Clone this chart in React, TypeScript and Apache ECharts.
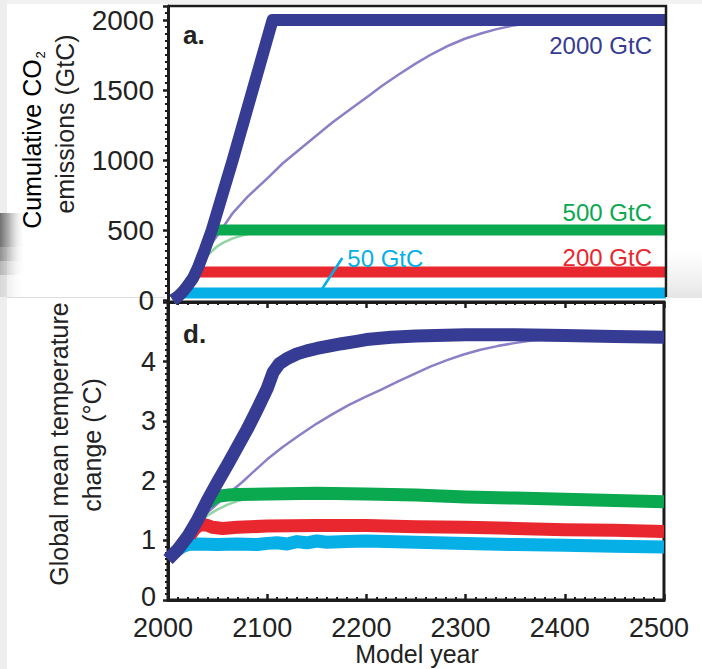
import React, { useEffect, useRef } from "react";
import * as echarts from "echarts";

// ---- Panel a: cumulative CO2 emissions (GtC) ----
const cumNavyYears = [2005, 2010, 2015, 2020, 2025, 2030, 2037, 2044, 2065, 2085, 2105, 2500];
const cumNavyValues = [0, 25, 60, 105, 155, 230, 360, 500, 1000, 1500, 2000, 2000];

const cumPurpleYears = [2005, 2010, 2015, 2020, 2025, 2030, 2040, 2050, 2065, 2080, 2100, 2115, 2132, 2150, 2165, 2182, 2200, 2215, 2232, 2249, 2265, 2282, 2298, 2315, 2330, 2345, 2360, 2380, 2400, 2500];
const cumPurpleValues = [0, 25, 60, 105, 155, 230, 365, 465, 621, 738, 870, 975, 1075, 1180, 1268, 1357, 1450, 1530, 1612, 1690, 1757, 1818, 1866, 1905, 1935, 1958, 1975, 1990, 1998, 2000];

const cumGreenYears = [2005, 2010, 2015, 2020, 2025, 2030, 2037, 2044, 2500];
const cumGreenValues = [0, 25, 60, 105, 155, 230, 360, 500, 500];

const cumThinGreenYears = [2030, 2035, 2040, 2045, 2049, 2055, 2065, 2075, 2082, 2090, 2100, 2120, 2500];
const cumThinGreenValues = [230, 280, 320, 355, 380, 408, 440, 462, 475, 485, 493, 500, 500];

const cumRedYears = [2005, 2010, 2015, 2020, 2025, 2029, 2500];
const cumRedValues = [0, 25, 60, 105, 155, 200, 200];

const cumCyanYears = [2005, 2010, 2014, 2500];
const cumCyanValues = [0, 25, 50, 50];

// Totals named in the panel a labels
const totalLabels = ["2000 GtC", "500 GtC", "200 GtC", "50 GtC"];
const totalValues = [2000, 500, 200, 50];
// leader line for the 50 GtC label: [year, GtC] endpoints
const leaderFrom = [2152, 50];
const leaderTo = [2175, 300];

// ---- Panel d: global mean temperature change (°C) ----
const tNavyYears = [2000, 2010, 2020, 2030, 2040, 2050, 2060, 2070, 2080, 2090, 2100, 2106, 2112, 2120, 2130, 2140, 2150, 2162, 2175, 2190, 2200, 2225, 2250, 2300, 2350, 2400, 2450, 2500];
const tNavyValues = [0.68, 0.85, 1.07, 1.35, 1.68, 1.98, 2.27, 2.57, 2.87, 3.2, 3.55, 3.82, 3.96, 4.05, 4.13, 4.18, 4.22, 4.26, 4.3, 4.34, 4.37, 4.41, 4.43, 4.45, 4.45, 4.44, 4.42, 4.41];

const tPurpleYears = [2030, 2040, 2050, 2062, 2075, 2088, 2100, 2115, 2132, 2150, 2165, 2182, 2198, 2215, 2232, 2249, 2265, 2282, 2298, 2315, 2332, 2349, 2365, 2382, 2400, 2420, 2500];
const tPurpleValues = [1.33, 1.47, 1.62, 1.8, 1.98, 2.18, 2.36, 2.56, 2.76, 2.96, 3.11, 3.27, 3.4, 3.53, 3.67, 3.8, 3.92, 4.03, 4.12, 4.2, 4.26, 4.31, 4.35, 4.38, 4.41, 4.42, 4.41];

const tGreenYears = [2040, 2045, 2050, 2060, 2070, 2100, 2150, 2200, 2250, 2300, 2350, 2400, 2450, 2500];
const tGreenValues = [1.62, 1.7, 1.74, 1.76, 1.77, 1.78, 1.79, 1.78, 1.76, 1.73, 1.71, 1.69, 1.67, 1.65];

const tThinGreenYears = [2035, 2040, 2045, 2050, 2055, 2060, 2065, 2070, 2075, 2085, 2100];
const tThinGreenValues = [1.36, 1.42, 1.47, 1.52, 1.56, 1.6, 1.63, 1.66, 1.68, 1.72, 1.76];

const tRedYears = [2022, 2025, 2028, 2031, 2035, 2040, 2045, 2055, 2070, 2100, 2150, 2200, 2250, 2300, 2350, 2400, 2450, 2500];
const tRedValues = [1.08, 1.15, 1.21, 1.25, 1.27, 1.25, 1.22, 1.2, 1.22, 1.24, 1.25, 1.25, 1.23, 1.22, 1.2, 1.18, 1.17, 1.15];

const tCyanYears = [2010, 2015, 2020, 2030, 2050, 2070, 2090, 2100, 2110, 2120, 2130, 2140, 2150, 2160, 2180, 2200, 2250, 2300, 2350, 2400, 2450, 2500];
const tCyanValues = [0.85, 0.9, 0.93, 0.94, 0.93, 0.94, 0.93, 0.95, 0.96, 0.94, 0.98, 0.96, 0.99, 0.97, 0.98, 0.99, 0.97, 0.95, 0.93, 0.92, 0.9, 0.89];

// ---- styling ----
const FONT = '"Liberation Sans", Arial, Helvetica, sans-serif';
const INK = "#1c1c1c";
const NAVY = "#363b93";
const PURPLE_THIN = "#8a80c6";
const GREEN = "#0aa84f";
const GREEN_THIN = "#93d4a4";
const RED = "#e8282e";
const CYAN = "#06afe6";

const zip = (xs: number[], ys: number[]) => xs.map((x, i) => [x, ys[i]]);

function line(name: string, data: number[][], color: string, width: number, grid: number) {
  return {
    name,
    type: "line",
    xAxisIndex: grid === 0 ? 0 : 1,
    yAxisIndex: grid,
    data,
    symbol: "none",
    showSymbol: false,
    smooth: false,
    clip: true,
    lineStyle: { color, width, cap: "butt", join: "round" },
    emphasis: { disabled: true },
  };
}

const plain = (v: number) => String(v);
// the zero of the temperature axis sits a little higher, clear of the year labels
const tempLabel = (v: number) => (v === 0 ? "{z|0}" : String(v));

export default function App() {
  const ref = useRef<HTMLDivElement>(null);

  useEffect(() => {
    if (!ref.current) return;
    const chart = echarts.init(ref.current, null, { renderer: "svg" });

    const tick = { show: true, inside: true, length: 6, lineStyle: { color: INK, width: 2.5 } };
    const minor = { show: true, splitNumber: 10, length: 3, lineStyle: { color: INK, width: 2 } };

    chart.setOption({
      animation: false,
      backgroundColor: "#ffffff",
      grid: [
        { left: 168, top: 6, width: 498, height: 294, show: false },
        { left: 168, top: 302, width: 498, height: 298, show: true, borderColor: INK, borderWidth: 3, backgroundColor: "transparent" },
      ],
      xAxis: [
        { gridIndex: 0, type: "value", min: 2000, max: 2500, show: false },
        {
          gridIndex: 1, type: "value", min: 2000, max: 2500, interval: 100, position: "bottom",
          axisLine: { show: true, lineStyle: { color: INK, width: 3 } },
          axisTick: tick, minorTick: minor, splitLine: { show: false }, minorSplitLine: { show: false },
          axisLabel: { fontSize: 27, lineHeight: 20, color: "#222", fontFamily: FONT, margin: 18, padding: [0, 10, 0, 0], formatter: plain },
        },
        {
          gridIndex: 1, type: "value", min: 2000, max: 2500, interval: 100, position: "top",
          axisLine: { show: true, lineStyle: { color: INK, width: 3 } },
          axisTick: tick, minorTick: minor, splitLine: { show: false },
          axisLabel: { show: false },
        },
      ],
      yAxis: [
        {
          gridIndex: 0, type: "value", min: 0, max: 2100, interval: 500,
          axisLine: { show: true, lineStyle: { color: INK, width: 3 } },
          axisTick: { ...tick, inside: false, length: 5 },
          minorTick: { ...minor, splitNumber: 10 },
          splitLine: { show: false },
          axisLabel: { fontSize: 28, lineHeight: 20, color: "#222", fontFamily: FONT, margin: 14, showMaxLabel: false, formatter: plain },
        },
        {
          gridIndex: 1, type: "value", min: 0, max: 5, interval: 1,
          axisLine: { show: true, lineStyle: { color: INK, width: 3 } },
          axisTick: { ...tick, inside: false, length: 5 },
          minorTick: { ...minor, splitNumber: 10 },
          splitLine: { show: false },
          axisLabel: {
            fontSize: 27, lineHeight: 20, color: "#222", fontFamily: FONT, margin: 12, showMaxLabel: false,
            formatter: tempLabel,
            rich: { z: { fontSize: 27, lineHeight: 20, color: "#222", fontFamily: FONT, padding: [0, 0, 6, 0] } },
          },
        },
      ],
      series: [
        // panel a
        line("a-2000-slow", zip(cumPurpleYears, cumPurpleValues), PURPLE_THIN, 2.5, 0),
        line("a-500-slow", zip(cumThinGreenYears, cumThinGreenValues), GREEN_THIN, 2.5, 0),
        line("a-50", zip(cumCyanYears, cumCyanValues), CYAN, 11, 0),
        line("a-200", zip(cumRedYears, cumRedValues), RED, 11, 0),
        line("a-500", zip(cumGreenYears, cumGreenValues), GREEN, 11, 0),
        line("a-2000", zip(cumNavyYears, cumNavyValues), NAVY, 12, 0),
        // panel d
        line("d-2000-slow", zip(tPurpleYears, tPurpleValues), PURPLE_THIN, 2.5, 1),
        line("d-500-slow", zip(tThinGreenYears, tThinGreenValues), GREEN_THIN, 2.5, 1),
        line("d-50", zip(tCyanYears, tCyanValues), CYAN, 13, 1),
        line("d-200", zip(tRedYears, tRedValues), RED, 13, 1),
        line("d-500", zip(tGreenYears, tGreenValues), GREEN, 13, 1),
        line("d-2000", zip(tNavyYears, tNavyValues), NAVY, 13, 1),
      ],
    });

    const px = (grid: number, pt: number[]) => chart.convertToPixel({ gridIndex: grid }, pt) as number[];

    // frame of panel a (top and right edges)
    const tl = px(0, [2000, 2100]);
    const tr = px(0, [2500, 2100]);
    const br = px(0, [2500, 0]);

    const labelColors = [NAVY, GREEN, RED, CYAN];
    const labelDy = [25, -18, -15];
    const totalTexts: any[] = totalLabels.slice(0, 3).map((t, i) => {
      const p = px(0, [2500, totalValues[i]]);
      return {
        type: "text", x: p[0] - 14, y: p[1] + labelDy[i], z: 10,
        style: { text: t, fill: labelColors[i], font: `24px ${FONT}`, textAlign: "right", textVerticalAlign: "middle" },
      };
    });
    const lf = px(0, leaderFrom);
    const lt = px(0, leaderTo);

    const titleRich = {
      a: { fontSize: 25, fontFamily: FONT, color: "#222", lineHeight: 30 },
      s: { fontSize: 13, fontFamily: FONT, color: "#222", lineHeight: 30, verticalAlign: "bottom", padding: [10, 0, 0, 1] },
    };
    const band = (y: number, h: number, a: number) => ({
      type: "rect", silent: true, z: -1,
      shape: { x: 0, y, width: 26, height: h },
      style: {
        opacity: a,
        fill: new echarts.graphic.LinearGradient(0, 0, 1, 0, [
          { offset: 0, color: "rgba(112,112,112,1)" },
          { offset: 0.35, color: "rgba(160,160,160,0.8)" },
          { offset: 1, color: "rgba(255,255,255,0)" },
        ]),
      },
    });

    chart.setOption({
      graphic: [
        // faint page edge shading
        { type: "rect", silent: true, z: -2, shape: { x: 0, y: 0, width: 702, height: 4 }, style: { fill: "#f1f1f1" } },
        { type: "rect", silent: true, z: -2, shape: { x: 0, y: 0, width: 7, height: 669 }, style: { fill: "#eeeeee" } },
        band(213, 34, 1),
        band(247, 14, 0.75),
        band(261, 14, 0.45),
        band(275, 22, 0.18),
        { type: "line", silent: true, z: -1, shape: { x1: 7, y1: 297.5, x2: 165, y2: 297.5 }, style: { stroke: "#dddddd", lineWidth: 1 } },
        {
          type: "rect", silent: true, z: -1, shape: { x: 668, y: 250, width: 34, height: 48 },
          style: { fill: new echarts.graphic.LinearGradient(0, 0, 0, 1, [
            { offset: 0, color: "rgba(238,238,238,0)" },
            { offset: 1, color: "rgba(228,228,228,1)" },
          ]) },
        },
        // panel a frame
        { type: "polyline", z: 5, shape: { points: [[tl[0], tl[1]], [tr[0], tr[1]], [br[0], br[1] - 3]] }, style: { stroke: INK, lineWidth: 2.5, fill: null } },
        // panel letters
        { type: "text", x: 183, y: 35, z: 10, style: { text: "a.", fill: "#222", font: `bold 26px ${FONT}`, textVerticalAlign: "middle" } },
        { type: "text", x: 183, y: 334, z: 10, style: { text: "d.", fill: "#222", font: `bold 26px ${FONT}`, textVerticalAlign: "middle" } },
        // totals
        ...totalTexts,
        { type: "line", z: 10, shape: { x1: lf[0], y1: lf[1], x2: lt[0], y2: lt[1] }, style: { stroke: CYAN, lineWidth: 2.5 } },
        {
          type: "text", x: lt[0] + 5, y: lt[1], z: 10,
          style: { text: totalLabels[3], fill: CYAN, font: `24px ${FONT}`, textAlign: "left", textVerticalAlign: "middle" },
        },
        // axis titles
        {
          type: "text", x: 32, y: 140, rotation: Math.PI / 2, z: 10,
          style: { text: "{a|Cumulative CO}{s|2}", rich: titleRich, textAlign: "center", textVerticalAlign: "middle" },
        },
        {
          type: "text", x: 65, y: 124, rotation: Math.PI / 2, z: 10,
          style: { text: "emissions (GtC)", fill: "#222", font: `25px ${FONT}`, textAlign: "center", textVerticalAlign: "middle" },
        },
        {
          type: "text", x: 59, y: 444, rotation: Math.PI / 2, z: 10,
          style: { text: "Global mean temperature", fill: "#222", font: `25px ${FONT}`, textAlign: "center", textVerticalAlign: "middle" },
        },
        {
          type: "text", x: 92, y: 445, rotation: Math.PI / 2, z: 10,
          style: { text: "change (°C)", fill: "#222", font: `25px ${FONT}`, textAlign: "center", textVerticalAlign: "middle" },
        },
        {
          type: "text", x: 417, y: 654, z: 10,
          style: { text: "Model year", fill: "#222", font: `25px ${FONT}`, textAlign: "center", textVerticalAlign: "middle" },
        },
      ],
    });

    return () => chart.dispose();
  }, []);

  return <div ref={ref} style={{ position: "fixed", left: 0, top: 0, width: 702, height: 669 }} />;
}
